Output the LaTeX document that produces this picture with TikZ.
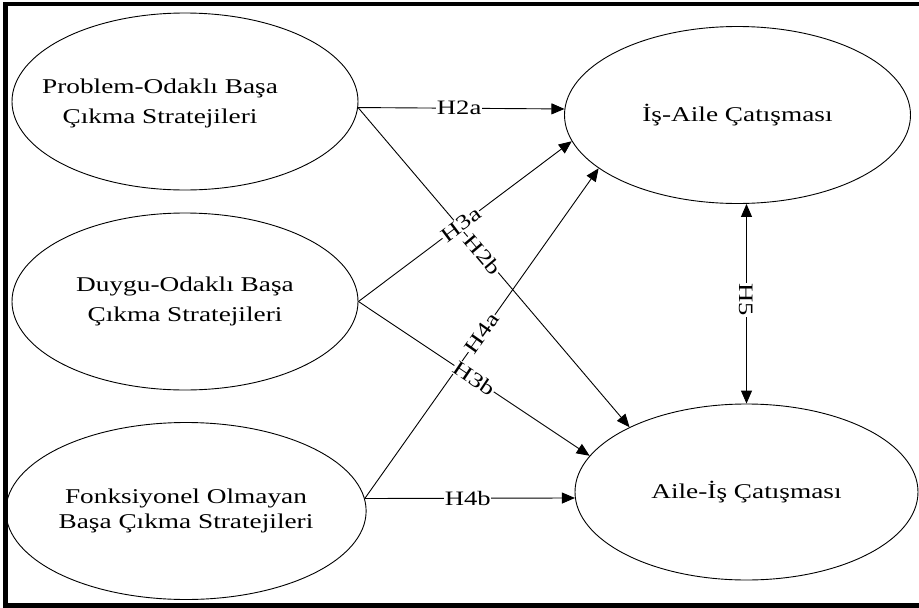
\documentclass[tikz,border=0pt]{standalone}
\usepackage{fontspec}
\setmainfont{Liberation Serif}[FakeStretch=1.3]
\usetikzlibrary{shapes.geometric,arrows.meta}

\tikzset{
  construct/.style={draw, ellipse, line width=0.9pt, inner sep=0pt,
    minimum width=346pt, minimum height=177pt, align=center,
    font=\fontsize{21}{30}\selectfont},
  arr/.style={line width=0.9pt, -{Triangle[length=13pt,width=11pt]}},
  dblarr/.style={line width=0.9pt, {Triangle[length=13pt,width=11pt]}-{Triangle[length=13pt,width=11pt]}},
  hyp/.style={fill=white, inner sep=0.6pt, font=\fontsize{20.5}{20.5}\selectfont, pos=0.49},
}

\begin{document}
\begin{tikzpicture}[x=1pt, y=-1pt]
  % canvas and outer frame
  \fill[white] (0,0) rectangle (919,608);
  \useasboundingbox (0,0) rectangle (919,608);
  \begin{scope}
    \clip (0,0) rectangle (919,608);
    \draw[line width=4.5pt] (5.5,4) rectangle (930,605.5);
  \end{scope}

  % coping strategies (left column)
  \node[construct, label={[xshift=-25pt, yshift=-2pt, align=center, font=\fontsize{21}{30}\selectfont]center:Problem-Odaklı Başa\\Çıkma Stratejileri}]
    (A) at (185,101.5) {};
  \node[construct] (B) at (185,301.5) {Duygu-Odaklı Başa\\Çıkma Stratejileri};
  \node[construct, font=\fontsize{21}{25}\selectfont] (C) at (186,511) {Fonksiyonel Olmayan\\Başa Çıkma Stratejileri};

  % conflict constructs (right column)
  \node[construct] (R1) at (737.5,115) {İş-Aile Çatışması};
  \node[construct, minimum width=343pt, minimum height=176pt] (R2) at (746.5,492) {Aile-İş Çatışması};

  % hypothesised paths
  \draw[arr] (A.-2) -- node[hyp] {H2a} (R1.178);
  \draw[arr] (A.-2) -- node[hyp, sloped, pos=0.46] {H2b} (R2.151);
  \draw[arr] (B.east) -- node[hyp, sloped, pos=0.48] {H3a} (R1.189);
  \draw[arr] (C.4) -- node[hyp, sloped, pos=0.5] {H4a} (R1.201);
  \draw[arr] (B.east) -- node[hyp, sloped, pos=0.5] {H3b} (R2.167);
  \draw[arr] (C.4) -- node[hyp] {H4b} (R2.182);
  \draw[dblarr] (R2.north |- R1.south) -- node[hyp, rotate=-90, pos=0.48] {H5} (R2.north);
\end{tikzpicture}
\end{document}
